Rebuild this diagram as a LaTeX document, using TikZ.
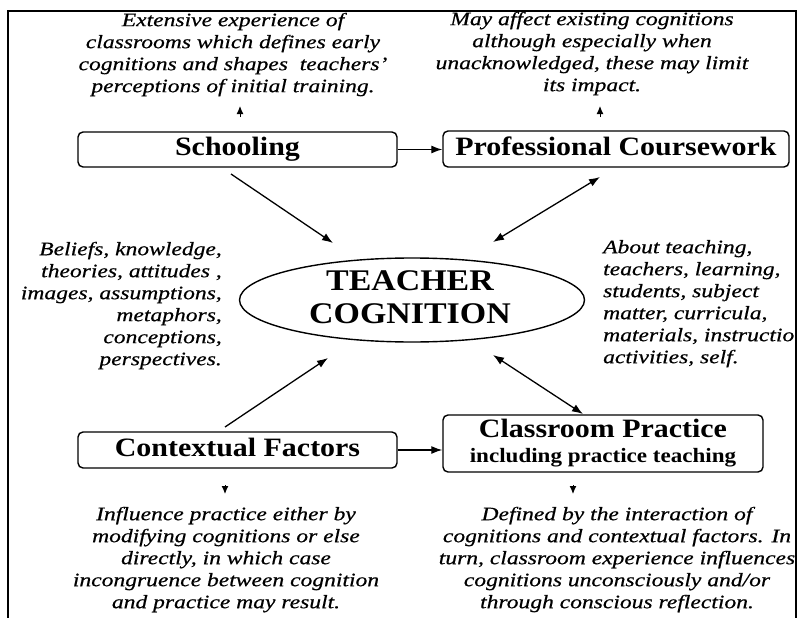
\documentclass[tikz,border=0pt]{standalone}
\usepackage{fontspec}
\setmainfont{Liberation Serif}
\newfontfamily\itf{Liberation Serif}[FakeStretch=1.24,FakeBold=0.5,Ligatures=TeX]
\newfontfamily\bff{Liberation Serif}[FakeStretch=1.13,Ligatures=TeX]
\usetikzlibrary{shapes.geometric,arrows.meta}
\newcommand\topstrut{\rule{0pt}{15pt}}
\begin{document}
\begin{tikzpicture}[x=1pt,y=-1pt,
  box/.style={draw, line width=1.4pt, rounded corners=5pt, inner sep=0pt,
    font=\bff\bfseries\fontsize{26.5}{30}\selectfont, text height=18pt, text depth=6pt},
  blurb/.style={inner sep=0pt, font=\itf\itshape\fontsize{19}{22}\selectfont},
  arr/.style={line width=1.3pt, -{Latex[length=11pt,width=8pt]}},
  darr/.style={line width=1.3pt, {Latex[length=11pt,width=8pt]}-{Latex[length=11pt,width=8pt]}},
  tipa/.style={line width=1pt, -{Latex[length=8pt,width=7pt]}}
]
\useasboundingbox (0,0) rectangle (801,618);
% frame
\draw[line width=1.5pt] (8,625) -- (8,11) -- (796,11) -- (796,625);

% boxes
\node[box, minimum width=319pt, minimum height=35pt] (school) at (237.5,149.5) {Schooling};
\node[box, minimum width=346pt, minimum height=36pt] (pc) at (616,149) {Professional Coursework};
\node[box, minimum width=319pt, minimum height=36pt] (cf) at (237.5,450) {Contextual Factors};
\node[box, minimum width=320pt, minimum height=57pt] (cp) at (603,443.5) {};
\node[anchor=base, inner sep=0pt, font=\bff\bfseries\fontsize{26.5}{30}\selectfont] (cpa) at (603,437) {Classroom Practice};
\node[anchor=base, inner sep=0pt, font=\bff\bfseries\fontsize{20.4}{24}\selectfont] (cpb) at (603,462) {including practice teaching};

% ellipse
\node[draw, ellipse, line width=1.4pt, minimum width=345pt, minimum height=84pt, inner sep=0pt] (tc) at (412,300) {};
\node[anchor=north, align=center, inner sep=0pt, font=\bff\bfseries\fontsize{30}{33}\selectfont] (tct) at (410,268) {\rule{0pt}{22pt}TEACHER\\COGNITION};

% texts
\node[blurb, align=center, anchor=north] (t1) at (233,11) {\topstrut Extensive experience of\\classrooms which defines early\\cognitions and shapes\ \ teachers'\\perceptions of initial training.};
\node[blurb, align=center, anchor=north] (t2) at (592,10) {\topstrut May affect existing cognitions\\although especially when\\unacknowledged, these may limit\\its impact.};
\node[blurb, align=right, anchor=north east] (t3) at (222,240) {\topstrut Beliefs, knowledge,\\theories, attitudes ,\\images, assumptions,\\metaphors,\\conceptions,\\perspectives.};
\node[blurb, align=left, anchor=north west] (t4) at (603,238) {\topstrut About teaching,\\teachers, learning,\\students, subject\\matter, curricula,\\materials, instructio\\activities, self.};
\node[blurb, align=center, anchor=north] (t5) at (226,505) {\topstrut Influence practice either by\\modifying cognitions or else\\directly, in which case\\incongruence between cognition\\and practice may result.};
\node[blurb, align=center, anchor=north] (t6) at (617,505) {\topstrut Defined by the interaction of\\cognitions and contextual factors. In\\turn, classroom experience influences\\cognitions unconsciously and/or\\through conscious reflection.};

% connector end points
\coordinate (s1) at (231,174); \coordinate (s2) at (333,243);
\coordinate (p1) at (600,177); \coordinate (p2) at (493,242);
\coordinate (c1) at (225,427); \coordinate (c2) at (328,358);
\coordinate (q1) at (493,355); \coordinate (q2) at (583,414);
\coordinate (u1) at (240,117); \coordinate (u2) at (240,106);
\coordinate (v1) at (600,117); \coordinate (v2) at (600,106);
\coordinate (w1) at (225,485); \coordinate (w2) at (225,494);
\coordinate (z1) at (573,485); \coordinate (z2) at (573,494);

% connectors
\draw[arr] (school.east) -- (school.east -| pc.west);
\draw[arr] (cf.east) -- (cf.east -| cp.west);
\draw[arr] (s1) -- (s2);
\draw[darr] (p1) -- (p2);
\draw[arr] (c1) -- (c2);
\draw[darr] (q1) -- (q2);
\draw[tipa] (u1) -- (u2);
\draw[tipa] (v1) -- (v2);
\draw[tipa] (w1) -- (w2);
\draw[tipa] (z1) -- (z2);
\end{tikzpicture}
\end{document}
